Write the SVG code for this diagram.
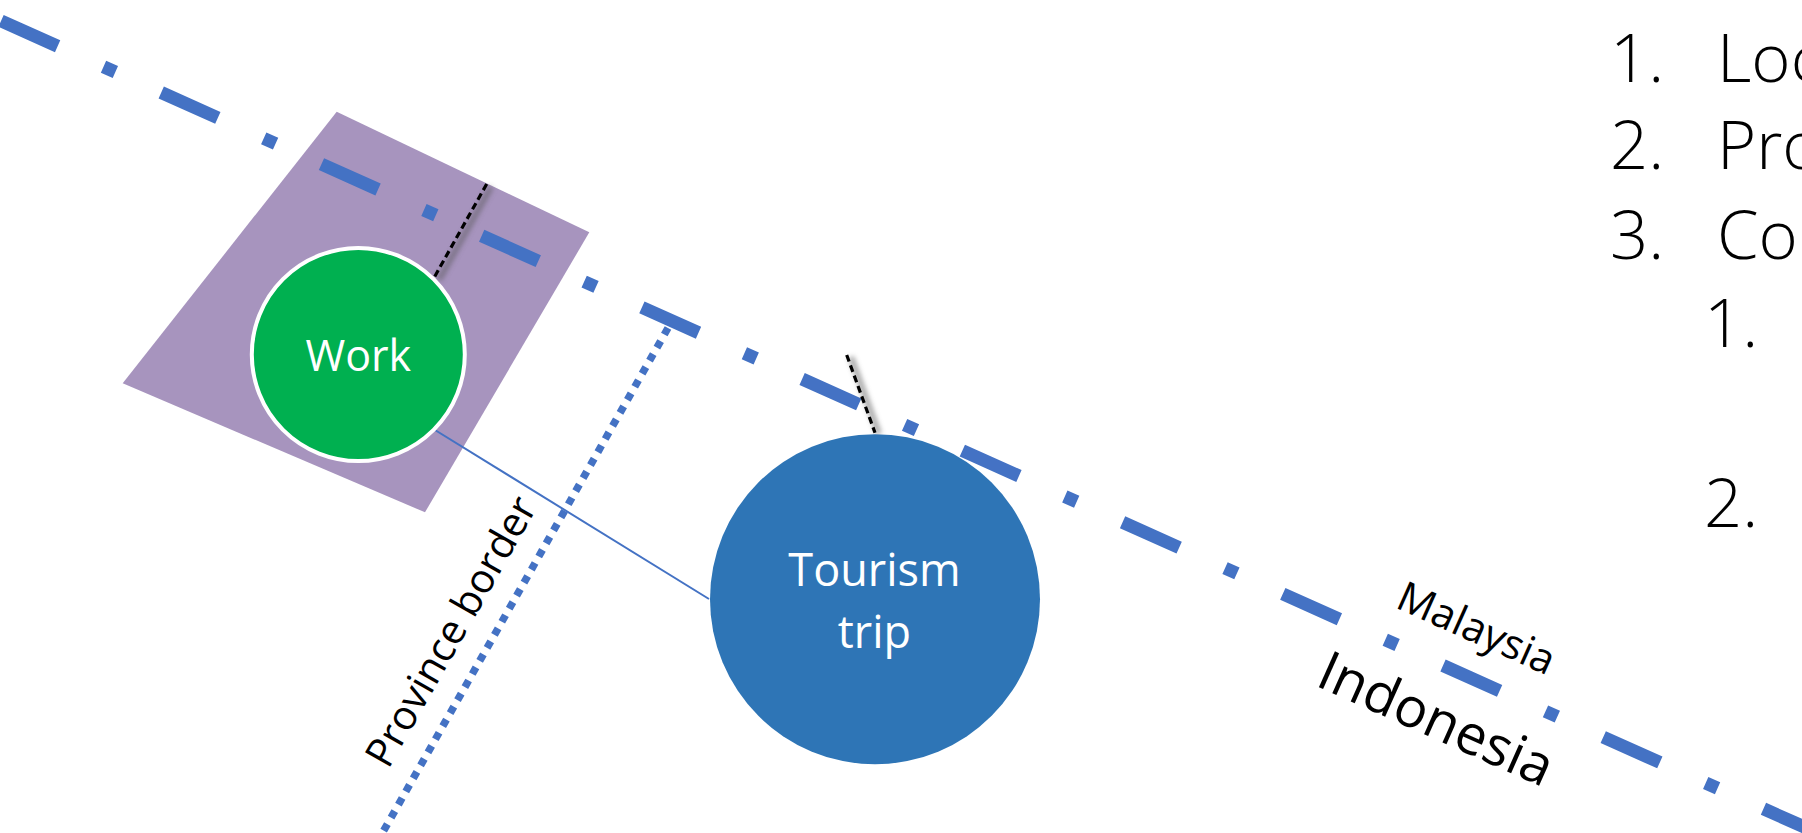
<svg xmlns="http://www.w3.org/2000/svg" width="1802" height="833" viewBox="0 0 1802 833">
  <defs>
    <filter id="soft-shadow" x="-50%" y="-50%" width="200%" height="200%">
      <feGaussianBlur stdDeviation="2.5"/>
    </filter>
    <style>
      .txt { font-family: "Open Sans", "Noto Sans", sans-serif; }
      .label-white { fill: #FFFFFF; text-anchor: middle; }
      .label-black { fill: #000000; }
      .list { font-family: "Open Sans", "Noto Sans", sans-serif; font-weight: 300; font-size: 67px; fill: #000000; }
      .country-border { fill: none; stroke: #4472C4; stroke-width: 13; stroke-dasharray: 62 50.25 13 50.25; }
      .province-border { fill: none; stroke: #4472C4; stroke-width: 7.5; stroke-dasharray: 7.5 7.5; }
      .distance { fill: none; stroke: #000000; stroke-width: 3.2; stroke-dasharray: 7 4; }
      .distance-shadow { fill: none; stroke: #555555; stroke-width: 6; opacity: 0.5; filter: url(#soft-shadow); }
      .link { fill: none; stroke: #4472C4; stroke-width: 2; }
    </style>
  </defs>

  <rect x="0" y="0" width="1802" height="833" fill="#FFFFFF"/>

  <!-- work area -->
  <g id="work-area">
    <polygon points="336.7,111.7 589.3,232.3 425,512.3 122.7,383.3" fill="#A794BE"/>
  </g>

  <!-- borders, distances and the trip link -->
  <g id="connectors">
    <path class="country-border" d="M -159.2 -50.7 L 1950 892.15"/>
    <path class="province-border" d="M 668 328 L 375 846"/>
    <path class="distance-shadow" d="M 491 187 L 439 280"/>
    <path class="distance" d="M 486.7 184 L 434.3 277.3"/>
    <path class="distance-shadow" d="M 851 357 L 879 434"/>
    <path class="distance" d="M 846.7 355 L 875 432.7"/>
    <path class="link" d="M 435 430 L 709 599"/>
  </g>

  <g id="work">
    <circle cx="358.3" cy="354.5" r="106.5" fill="#00B050" stroke="#FFFFFF" stroke-width="4"/>
    <text class="txt label-white" x="358.3" y="370.7" font-size="43">Work</text>
  </g>

  <g id="tourism-trip">
    <circle cx="875" cy="599.2" r="165" fill="#2E75B6"/>
    <text class="txt label-white" x="874.5" y="585.7" font-size="45">Tourism</text>
    <text class="txt label-white" x="874.5" y="648.3" font-size="45">trip</text>
  </g>

  <!-- border labels -->
  <g id="border-labels">
    <text class="txt label-black" font-size="40.5" transform="translate(388.2,770) rotate(-60.4)">Province border</text>
    <text class="txt label-black" font-size="41.5" transform="translate(1394,607) rotate(24.1)">Malaysia</text>
    <text class="txt label-black" font-size="55" transform="translate(1314,685) rotate(24.1)">Indonesia</text>
  </g>

  <!-- numbered list on the right -->
  <g id="list">
    <text class="list" x="1610" y="82">1.</text>
    <text class="list" x="1717" y="82">Loc</text>
    <text class="list" x="1610" y="169">2.</text>
    <text class="list" x="1717" y="169">Pro</text>
    <text class="list" x="1610" y="259">3.</text>
    <text class="list" x="1717" y="259">Co</text>
    <text class="list" x="1704" y="347">1.</text>
    <text class="list" x="1704" y="527">2.</text>
  </g>
</svg>
